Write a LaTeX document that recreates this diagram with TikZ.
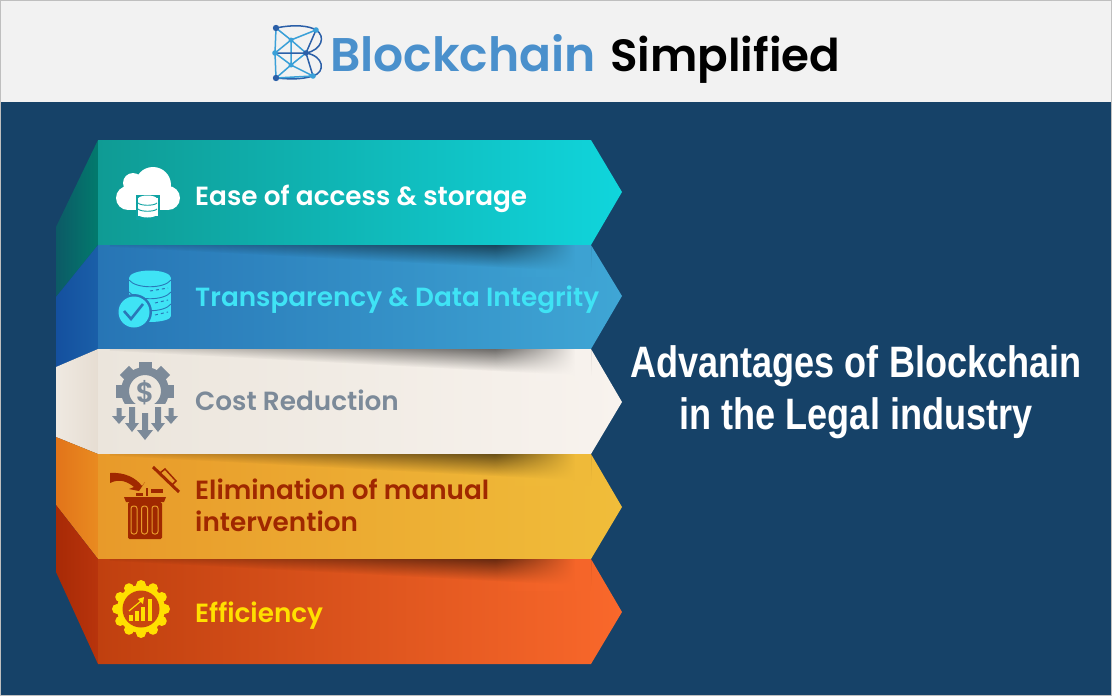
\documentclass[tikz,border=0pt]{standalone}
\usepackage{fontspec}
\usetikzlibrary{fadings}
\newfontfamily\titlefont{Poppins SemiBold}
\newfontfamily\headfont[FakeStretch=0.82]{Liberation Sans Bold}
\definecolor{bgblue}{HTML}{164268}
\definecolor{headgrey}{HTML}{F2F2F2}
\definecolor{logoblue}{HTML}{4A90CC}
\definecolor{logodark}{HTML}{2B5FA8}
\definecolor{logolight}{HTML}{3AA0D8}
\definecolor{tealicon}{HTML}{0FA3A3}
\definecolor{cyantext}{HTML}{3FE3F5}
\definecolor{bluemid}{HTML}{2A78B8}
\definecolor{greytext}{HTML}{7C8A99}
\definecolor{redtext}{HTML}{A02800}
\definecolor{yellowtext}{HTML}{FFE000}
\definecolor{orangemid}{HTML}{C8460F}
\definecolor{orangeband}{HTML}{E89A2A}
% band colours, left to right
\definecolor{tealleft}{HTML}{0F9B94}
\definecolor{tealright}{HTML}{10D5DC}
\definecolor{blueleft}{HTML}{2775B5}
\definecolor{blueright}{HTML}{3FA6D5}
\definecolor{creamleft}{HTML}{EBE5DC}
\definecolor{creamright}{HTML}{F8F3EE}
\definecolor{amberleft}{HTML}{E89A2A}
\definecolor{amberright}{HTML}{F0BD3A}
\definecolor{rustleft}{HTML}{C0400F}
\definecolor{rustright}{HTML}{F9682B}
% side faces
\definecolor{sidetealone}{HTML}{0C5A66}
\definecolor{sidetealtwo}{HTML}{027A6D}
\definecolor{sideblueone}{HTML}{14509F}
\definecolor{sidebluetwo}{HTML}{1A5FA8}
\definecolor{sidecreamone}{HTML}{EFE9E1}
\definecolor{sidecreamtwo}{HTML}{E6DDD2}
\definecolor{sideamberone}{HTML}{E2741A}
\definecolor{sideambertwo}{HTML}{E98B20}
\definecolor{siderustone}{HTML}{A82A06}
\definecolor{siderusttwo}{HTML}{B8340C}
\tikzfading[name=shadowdown, top color=transparent!25, bottom color=transparent!100]
\tikzfading[name=washin, left color=transparent!100, right color=transparent!0]
\tikzset{
  labeltext/.style={anchor=base west, inner sep=0pt, font=\titlefont\fontsize{26.3}{30}\selectfont},
  headtext/.style={anchor=base, inner sep=0pt, text=white, font=\headfont\fontsize{44}{48}\selectfont},
  logoline/.style={logolight, line width=1.5pt},
  logodarkline/.style={logodark, line width=1.5pt}
}
% shadow on top of a band: top edge, colour near the band's right end
\newcommand{\bandshadow}[2]{
  \begin{scope}
    \clip (98,#1) rectangle (591,#1+50);
    \begin{scope}[transform canvas={rotate around={-3:(110,#1)}}]
      \fill[black, path fading=shadowdown] (110,#1-28) rectangle (620,#1+2);
    \end{scope}
    \fill[#2, path fading=washin] (495,#1) rectangle (575,#1+32);
    \fill[#2] (575,#1) rectangle (591,#1+32);
  \end{scope}
}
\begin{document}
\begin{tikzpicture}[x=1pt,y=-1pt]
  \useasboundingbox (0,0) rectangle (1112,696);
  % header and background
  \fill[bgblue] (0,0) rectangle (1112,696);
  \fill[headgrey] (0,0) rectangle (1112,102);
  \draw[gray!50, line width=0.5pt] (0.5,0.5) rectangle (1111.5,695.5);

  % logo
  \draw[logodarkline] (276,28) .. controls (295,24) and (310,26) .. (316,30) .. controls (326,36) and (322,50) .. (306,53) .. controls (324,56) and (326,72) .. (313,76) .. controls (300,80) and (288,79) .. (276,78);
  \draw[logoline] (276,28) -- (275,53) -- (276,78);
  \draw[logoline] (276,28) -- (291,40) -- (316,30);
  \draw[logoline] (291,40) -- (275,53) -- (291,65) -- (276,78);
  \draw[logoline] (291,40) -- (291,65) -- (313,76) -- (276,78);
  \draw[logoline] (291,40) -- (306,53) -- (291,65);
  \draw[logodarkline] (275,53) -- (306,53) -- (316,30);
  \draw[logodarkline] (306,53) -- (313,76);
  \fill[logodark] (276,28) circle (3.2);
  \fill[logolight] (316,30) circle (2.8);
  \fill[logolight] (291,40) circle (2.5);
  \fill[logolight] (275,53) circle (2.8);
  \fill[logodark] (306,53) circle (2.8);
  \fill[logolight] (291,65) circle (2.5);
  \fill[logodark] (276,78) circle (3.2);
  \fill[logolight] (313,76) circle (2.8);

  % title
  \node[anchor=base west, inner sep=0pt, text=logoblue, font=\titlefont\fontsize{47.2}{50}\selectfont] (titleblue) at (330,71) {Blockchain};
  \node[anchor=base west, inner sep=0pt, text=black, font=\titlefont\fontsize{45.2}{50}\selectfont] (titleblack) at (610,71) {Simplified};

  % left faces
  \shade[left color=sidetealone, right color=sidetealtwo] (98,140) -- (56,227) -- (56,297) -- (98,245) -- cycle;
  \shade[left color=sideblueone, right color=sidebluetwo] (98,245) -- (56,297) -- (56,367) -- (98,349) -- cycle;
  \shade[left color=sidecreamone, right color=sidecreamtwo] (98,349) -- (56,367) -- (56,437) -- (98,454) -- cycle;
  \shade[left color=sideamberone, right color=sideambertwo] (98,454) -- (56,437) -- (56,505) -- (98,559) -- cycle;
  \shade[left color=siderustone, right color=siderusttwo] (98,559) -- (56,505) -- (56,572) -- (98,664) -- cycle;

  % arrow bands
  \shade[left color=tealleft, right color=tealright] (98,140) -- (591,140) -- (622,192) -- (591,245) -- (98,245) -- cycle;
  \shade[left color=blueleft, right color=blueright] (98,245) -- (591,245) -- (622,296) -- (591,349) -- (98,349) -- cycle;
  \shade[left color=creamleft, right color=creamright] (98,349) -- (591,349) -- (622,402) -- (591,454) -- (98,454) -- cycle;
  \shade[left color=amberleft, right color=amberright] (98,454) -- (591,454) -- (622,507) -- (591,559) -- (98,559) -- cycle;
  \shade[left color=rustleft, right color=rustright] (98,559) -- (591,559) -- (622,612) -- (591,664) -- (98,664) -- cycle;

  % shadows under the bands
  \bandshadow{245}{blueright!92!blueleft}
  \bandshadow{349}{creamright!92!creamleft}
  \bandshadow{454}{amberright!92!amberleft}
  \bandshadow{559}{rustright!92!rustleft}

  % labels
  \node[labeltext, text=white] (easelabel) at (195,205) {Ease of access \& storage};
  \node[labeltext, text=cyantext] (transparencylabel) at (195,306) {Transparency \& Data Integrity};
  \node[labeltext, text=greytext] (costlabel) at (195,410) {Cost Reduction};
  \node[labeltext, text=redtext] (eliminationlabel) at (195,499) {Elimination of manual};
  \node[labeltext, text=redtext] (interventionlabel) at (195,531) {intervention};
  \node[labeltext, text=yellowtext] (efficiencylabel) at (195,622) {Efficiency};

  % heading on the right
  \node[headtext] (headone) at (856,377) {Advantages of Blockchain};
  \node[headtext] (headtwo) at (856,429) {in the Legal industry};

  % cloud icon
  \fill[white] (128,198) circle (12);
  \fill[white] (133,183) circle (10);
  \fill[white] (153,185) circle (18);
  \fill[white] (168,198) circle (12);
  \fill[white] (128,190) rectangle (168,210);
  \fill[tealicon] (136,195) rectangle (160,220);
  \draw[white, fill=white, line width=0pt] (138,198) rectangle (157,215);
  \fill[white] (147.5,199) ellipse (9.5 and 3.5);
  \fill[white] (147.5,214) ellipse (9.5 and 3.5);
  \draw[tealicon, line width=0.9pt] (138,203) .. controls (141,206) and (154,206) .. (157,203);
  \draw[tealicon, line width=0.9pt] (138,209) .. controls (141,212) and (154,212) .. (157,209);

  % database icon
  \fill[cyantext] (129,278) rectangle (171,316);
  \fill[cyantext] (150,278) ellipse (21 and 7.5);
  \fill[cyantext] (150,316) ellipse (21 and 6);
  \draw[bluemid, line width=0.9pt] (129,280) .. controls (136,289) and (164,289) .. (171,280);
  \draw[bluemid, line width=0.9pt] (129,292) .. controls (136,301) and (164,301) .. (171,292);
  \draw[bluemid, line width=0.9pt] (129,304) .. controls (136,313) and (164,313) .. (171,304);
  \draw[bluemid, line width=1pt, dashed] (150,291) -- (168,288);
  \draw[bluemid, line width=1pt, dashed] (155,303) -- (168,300);
  \draw[bluemid, line width=1pt, dashed] (155,315) -- (168,312);
  \fill[bluemid] (134,312) circle (18);
  \fill[cyantext] (134,312) circle (15.5);
  \draw[bluemid, line width=2.6pt] (124,311) -- (131,319) -- (143,304);

  % cost icon
  \begin{scope}
    \clip (110,355) rectangle (180,403);
    \draw[greytext, line width=8pt] (145,391) circle (20);
    \fill[greytext, rotate around={0:(145,391)}] (138.5,362) rectangle (151.5,370);
    \fill[greytext, rotate around={45:(145,391)}] (138.5,362) rectangle (151.5,370);
    \fill[greytext, rotate around={-45:(145,391)}] (138.5,362) rectangle (151.5,370);
    \fill[greytext, rotate around={90:(145,391)}] (138.5,362) rectangle (151.5,370);
    \fill[greytext, rotate around={-90:(145,391)}] (138.5,362) rectangle (151.5,370);
  \end{scope}
  \node[inner sep=0pt, text=greytext, font=\titlefont\fontsize{28}{30}\selectfont] (dollarsign) at (145,393) {\$};
  \fill[greytext] (116.5,408) -- (121.5,408) -- (121.5,416) -- (126,416) -- (119,424) -- (112,416) -- (116.5,416) -- cycle;
  \fill[greytext] (129,407) -- (135,407) -- (135,423) -- (139,423) -- (132,432) -- (125,423) -- (129,423) -- cycle;
  \fill[greytext] (142,413) -- (148,413) -- (148,430) -- (153,430) -- (145,440) -- (137,430) -- (142,430) -- cycle;
  \fill[greytext] (155,407) -- (161,407) -- (161,423) -- (165,423) -- (158,432) -- (151,423) -- (155,423) -- cycle;
  \fill[greytext] (168.5,408) -- (173.5,408) -- (173.5,416) -- (178,416) -- (171,424) -- (164,416) -- (168.5,416) -- cycle;

  % trash icon
  \fill[redtext] (110,473) .. controls (125,472) and (136,478) .. (142,486) -- (145,482) -- (139,491) -- (129,489) -- (134,487) .. controls (128,482) and (120,478) .. (110,483) -- cycle;
  \fill[redtext] (136,493) rectangle (143,496);
  \fill[redtext] (146,488) rectangle (148,496);
  \fill[redtext] (151,489) rectangle (163,493);
  \fill[redtext] (124,497) -- (166,497) -- (164,502) -- (126,502) -- cycle;
  \fill[redtext, rounded corners=1.5pt] (128,502) rectangle (162,539);
  \draw[orangeband, line width=1pt, rounded corners=2.5pt] (131,506) rectangle (137,534);
  \draw[orangeband, line width=1pt, rounded corners=2.5pt] (141.5,506) rectangle (147.5,534);
  \draw[orangeband, line width=1pt, rounded corners=2.5pt] (152,506) rectangle (158,534);
  \draw[redtext, line width=3pt] (153,467) -- (179,492);
  \draw[redtext, line width=1.5pt] (160,473) -- (165,469) -- (176,481) -- (172,485);

  % efficiency icon
  \begin{scope}[shift={(141,609)}]
    \fill[yellowtext] (0,0) circle (24);
    \fill[yellowtext] (0:24) circle (5);
    \fill[yellowtext] (30:24) circle (5);
    \fill[yellowtext] (60:24) circle (5);
    \fill[yellowtext] (90:24) circle (5);
    \fill[yellowtext] (120:24) circle (5);
    \fill[yellowtext] (150:24) circle (5);
    \fill[yellowtext] (180:24) circle (5);
    \fill[yellowtext] (210:24) circle (5);
    \fill[yellowtext] (240:24) circle (5);
    \fill[yellowtext] (270:24) circle (5);
    \fill[yellowtext] (300:24) circle (5);
    \fill[yellowtext] (330:24) circle (5);
    \fill[orangemid] (0,0) circle (18.5);
    \fill[yellowtext] (-12,6) rectangle (-8,12);
    \fill[yellowtext] (-6,2) rectangle (-2,12);
    \fill[yellowtext] (0,-2) rectangle (4,12);
    \fill[yellowtext] (7,-10) rectangle (11,12);
    \draw[yellowtext, line width=1.2pt] (-12,2) -- (0,-8);
    \fill[yellowtext] (3,-12) -- (-3,-10) -- (2,-5) -- cycle;
  \end{scope}
\end{tikzpicture}
\end{document}
